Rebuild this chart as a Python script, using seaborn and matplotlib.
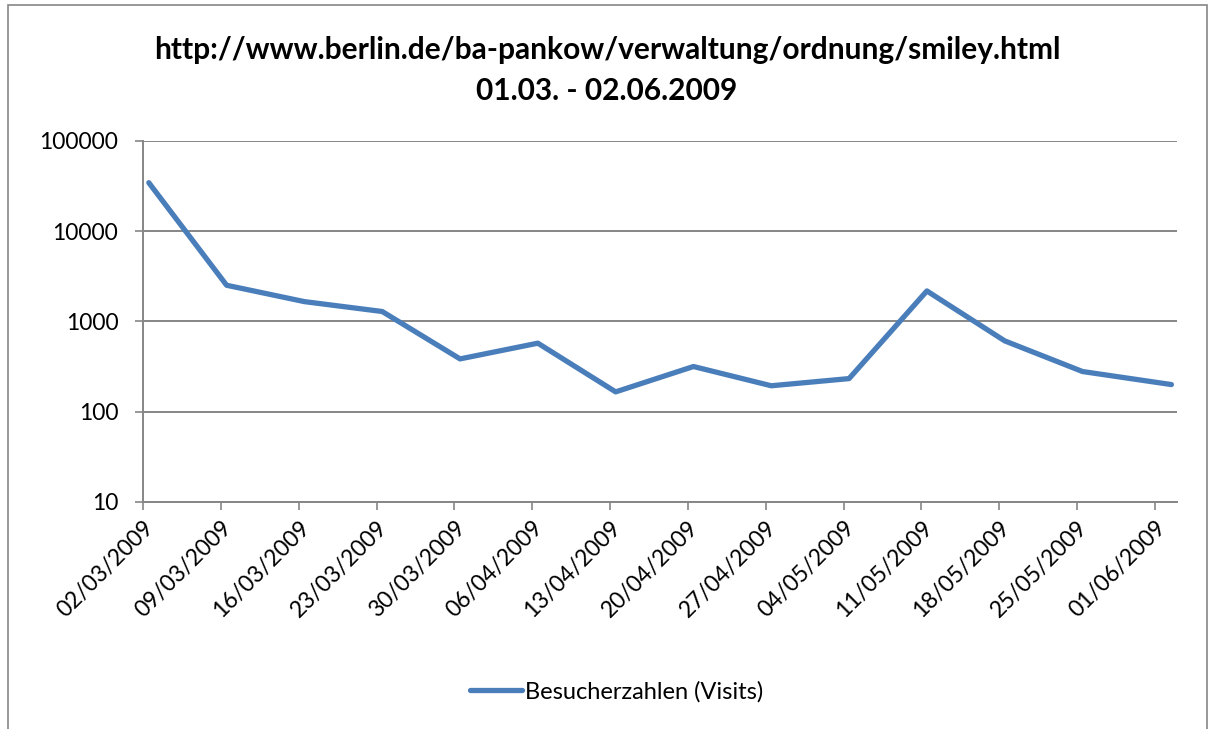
import pandas as pd
import matplotlib.pyplot as plt
from matplotlib.patches import Rectangle
import seaborn as sns

# Daten
visit_dates = ['2009-03-02', '2009-03-09', '2009-03-16', '2009-03-23', '2009-03-30',
               '2009-04-06', '2009-04-13', '2009-04-20', '2009-04-27', '2009-05-04',
               '2009-05-11', '2009-05-18', '2009-05-25', '2009-06-02']
visits = [34500, 2520, 1660, 1290, 385, 575, 166, 317, 194, 233, 2180, 610, 279, 200]

tick_dates = ['2009-03-02', '2009-03-09', '2009-03-16', '2009-03-23', '2009-03-30',
              '2009-04-06', '2009-04-13', '2009-04-20', '2009-04-27', '2009-05-04',
              '2009-05-11', '2009-05-18', '2009-05-25', '2009-06-01']
y_ticks = [10, 100, 1000, 10000, 100000]

title = 'http://www.berlin.de/ba-pankow/verwaltung/ordnung/smiley.html\n01.03. - 02.06.2009'
series_name = 'Besucherzahlen (Visits)'

df = pd.DataFrame({'Datum': pd.to_datetime(visit_dates) + pd.Timedelta(hours=12),
                   'Besuche': visits})

sns.set_style('white')
plt.rcParams['font.family'] = ['Lato', 'DejaVu Sans']
plt.rcParams['text.color'] = 'black'

fig = plt.figure(figsize=(12.14, 7.29), dpi=100)
ax = fig.add_axes([0.118, 0.3114, 0.8515, 0.4952])

sns.lineplot(data=df, x='Datum', y='Besuche', ax=ax, color='#4A7EBB',
             linewidth=3.8, label=series_name, legend=False)

ax.set_yscale('log')
ax.set_ylim(10, 100000)
ax.set_yticks(y_ticks)
ax.set_yticklabels([str(v) for v in y_ticks])
ax.yaxis.set_minor_locator(plt.NullLocator())

ticks = pd.to_datetime(tick_dates)
ax.set_xlim(pd.Timestamp('2009-03-02'), pd.Timestamp('2009-06-03'))
ax.set_xticks(ticks)
ax.set_xticklabels([d.strftime('%d/%m/%Y') for d in ticks], rotation=45,
                   ha='right', rotation_mode='anchor')
ax.xaxis.set_minor_locator(plt.NullLocator())

ax.set_xlabel('')
ax.set_ylabel('')
ax.grid(axis='y', color='#868686', linewidth=1.4)
ax.grid(axis='x', visible=False)
ax.set_axisbelow(True)

for s in ['top', 'right']:
    ax.spines[s].set_visible(False)
for s in ['left', 'bottom']:
    ax.spines[s].set_color('#868686')
    ax.spines[s].set_linewidth(1.4)

ax.tick_params(axis='both', which='major', length=6, width=1.2, color='#868686',
               labelsize=16.5, labelcolor='black', direction='out',
               bottom=True, left=True)
ax.tick_params(axis='y', pad=12)
ax.tick_params(axis='x', pad=5)

fig.suptitle(title, fontsize=21.5, fontweight='bold', y=0.95, linespacing=1.55,
             color='black')

handles, labels = ax.get_legend_handles_labels()
fig.legend(handles, labels, loc='center', bbox_to_anchor=(0.508, 0.051),
           frameon=False, fontsize=17, handlelength=2.2, handletextpad=0.1,
           labelcolor='black')

# Rahmen um das Diagramm
fig.patches.append(Rectangle((8 / 1214, -0.01), 1199 / 1214, 1 - 5 / 729 + 0.01,
                             transform=fig.transFigure, fill=False,
                             edgecolor='#868686', linewidth=1.2))

plt.savefig('out.png', dpi=100)
